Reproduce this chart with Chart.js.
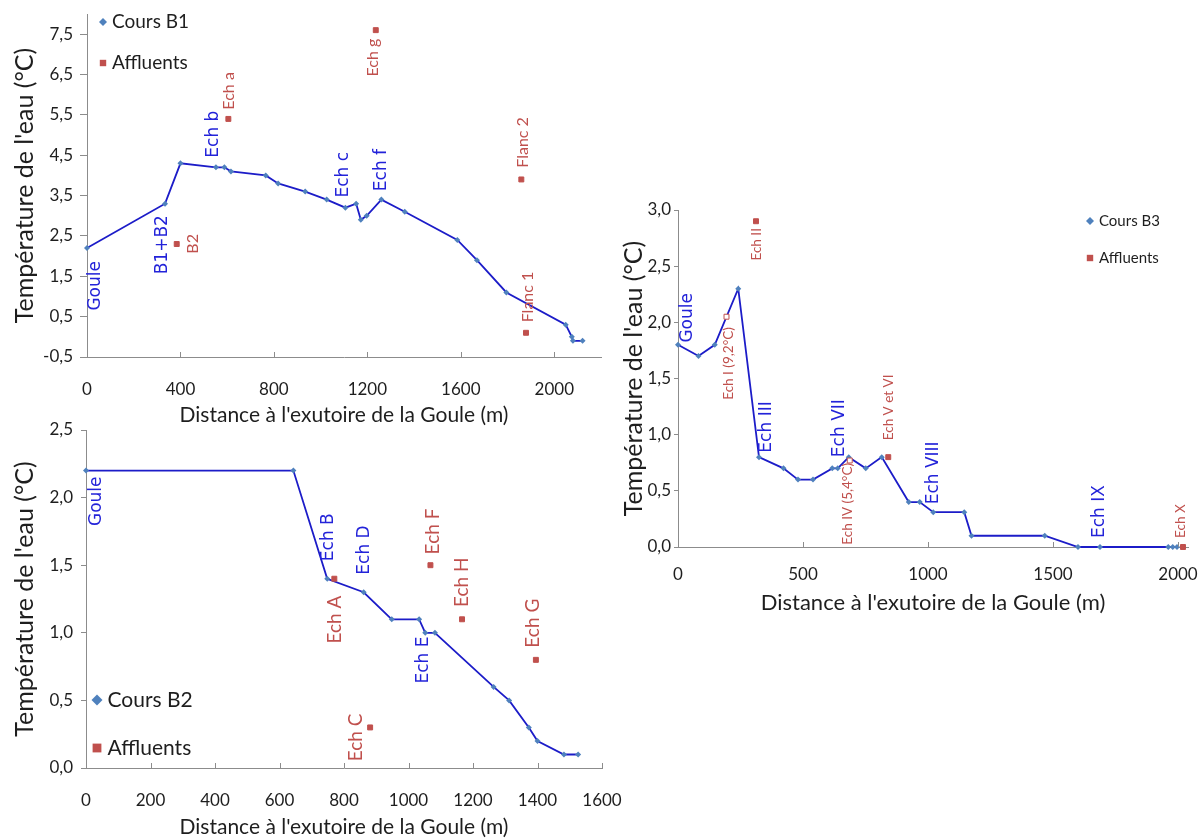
<!DOCTYPE html>
<html>
<head>
<meta charset="utf-8">
<script src="https://cdn.jsdelivr.net/npm/chart.js@4.4.1/dist/chart.umd.min.js"></script>
<style>
  body { margin: 0; background: #fff; }
  #page { position: relative; width: 1198px; height: 840px; overflow: hidden; }
  canvas { position: absolute; }
</style>
</head>
<body>
<div id="page">
  <canvas id="chartB1" width="620" height="430" style="left:0;top:0"></canvas>
  <canvas id="chartB2" width="640" height="428" style="left:0;top:412px"></canvas>
  <canvas id="chartB3" width="598" height="450" style="left:600px;top:180px"></canvas>
</div>
<script>
//********************************************************************************
/// Data (distance in m, water temperature in °C)
//********************************************************************************
// Cours B1
const b1Dist = [0, 334, 400, 552, 588, 616, 765, 818, 934, 1026, 1106, 1152, 1172, 1197, 1260, 1360, 1585, 1669, 1795, 2049, 2075, 2080, 2121];
const b1Temp = [2.2, 3.3, 4.3, 4.2, 4.2, 4.1, 4.0, 3.8, 3.6, 3.4, 3.2, 3.3, 2.9, 3.0, 3.4, 3.1, 2.4, 1.9, 1.1, 0.3, 0.0, -0.1, -0.1];
const b1AffNames = ['B2', 'Ech a', 'Ech g', 'Flanc 2', 'Flanc 1'];
const b1AffDist = [384, 605, 1236, 1859, 1879];
const b1AffTemp = [2.3, 5.4, 7.6, 3.9, 0.1];
const b1XTicks = [0, 400, 800, 1200, 1600, 2000];
const b1YTicks = [-0.5, 0.5, 1.5, 2.5, 3.5, 4.5, 5.5, 6.5, 7.5];

// Cours B2
const b2Dist = [0, 643, 748, 861, 948, 1033, 1052, 1082, 1264, 1312, 1373, 1400, 1482, 1526];
const b2Temp = [2.2, 2.2, 1.4, 1.3, 1.1, 1.1, 1.0, 1.0, 0.6, 0.5, 0.3, 0.2, 0.1, 0.1];
const b2AffNames = ['Ech A', 'Ech C', 'Ech F', 'Ech H', 'Ech G'];
const b2AffDist = [770, 881, 1068, 1166, 1395];
const b2AffTemp = [1.4, 0.3, 1.5, 1.1, 0.8];
const b2XTicks = [0, 200, 400, 600, 800, 1000, 1200, 1400, 1600];
const b2YTicks = [0, 0.5, 1.0, 1.5, 2.0, 2.5];

// Cours B3
const b3Dist = [0, 82, 147, 241, 324, 422, 480, 540, 617, 639, 683, 751, 815, 923, 967, 1021, 1145, 1174, 1467, 1600, 1688, 1961, 1979, 1996];
const b3Temp = [1.8, 1.7, 1.8, 2.3, 0.8, 0.7, 0.6, 0.6, 0.7, 0.7, 0.8, 0.7, 0.8, 0.4, 0.4, 0.31, 0.31, 0.1, 0.1, 0.0, 0.0, 0.0, 0.0, 0.0];
const b3AffNames = ['Ech I (9,2°C)', 'Ech II', 'Ech IV (5,4°C)', 'Ech V et VI', 'Ech X'];
const b3AffDist = [194, 312, 687, 841, 2020];
const b3AffTemp = [2.05, 2.9, 0.77, 0.8, 0.0];
const b3AffOffScale = [true, false, true, false, false]; // real value is off the scale
const b3XTicks = [0, 500, 1000, 1500, 2000];
const b3YTicks = [0, 0.5, 1.0, 1.5, 2.0, 2.5, 3.0];

const xTitle = "Distance à l'exutoire de la Goule (m)";
const yTitle = "Température de l'eau (°C)";

//********************************************************************************
/// Sample labels (rotated text, anchored at the bottom of the text)
//********************************************************************************
const b1Labels = [
    {text: 'Goule', x: 36, y: 0.65, kind: 'cours'},
    {text: 'B1+B2', x: 323, y: 1.55, kind: 'cours'},
    {text: 'B2', x: 454, y: 2.06, kind: 'aff'},
    {text: 'Ech b', x: 541, y: 4.44, kind: 'cours'},
    {text: 'Ech a', x: 607, y: 5.63, kind: 'aff'},
    {text: 'Ech g', x: 1225, y: 6.45, kind: 'aff'},
    {text: 'Ech c', x: 1098, y: 3.45, kind: 'cours'},
    {text: 'Ech f', x: 1262, y: 3.61, kind: 'cours'},
    {text: 'Flanc 2', x: 1864, y: 4.19, kind: 'aff'},
    {text: 'Flanc 1', x: 1885, y: 0.36, kind: 'aff'}
];
const b2Labels = [
    {text: 'Goule', x: 32, y: 1.79, kind: 'cours'},
    {text: 'Ech B', x: 751, y: 1.53, kind: 'cours'},
    {text: 'Ech D', x: 865, y: 1.43, kind: 'cours'},
    {text: 'Ech A', x: 772, y: 0.92, kind: 'aff'},
    {text: 'Ech E', x: 1047, y: 0.625, kind: 'cours'},
    {text: 'Ech F', x: 1076, y: 1.58, kind: 'aff'},
    {text: 'Ech H', x: 1164, y: 1.19, kind: 'aff'},
    {text: 'Ech G', x: 1387, y: 0.89, kind: 'aff'},
    {text: 'Ech C', x: 836, y: 0.05, kind: 'aff'}
];
const b3Labels = [
    {text: 'Goule', x: 40, y: 1.82, kind: 'cours'},
    {text: 'Ech I (9,2°C)', x: 202, y: 1.31, kind: 'aff'},
    {text: 'Ech II', x: 315, y: 2.55, kind: 'aff'},
    {text: 'Ech III', x: 356, y: 0.84, kind: 'cours'},
    {text: 'Ech VII', x: 647, y: 0.80, kind: 'cours'},
    {text: 'Ech IV (5,4°C)', x: 680, y: 0.02, kind: 'aff'},
    {text: 'Ech V et VI', x: 842, y: 0.95, kind: 'aff'},
    {text: 'Ech VIII', x: 1021, y: 0.38, kind: 'cours'},
    {text: 'Ech IX', x: 1688, y: 0.08, kind: 'cours'},
    {text: 'Ech X', x: 2012, y: 0.08, kind: 'aff'}
];

//********************************************************************************
/// Styles
//********************************************************************************
const NARROW = "Lato, 'DejaVu Sans Condensed', sans-serif";
const WIDE = "'DejaVu Sans', Verdana, sans-serif";
const LINE_BLUE = '#1C1CC8';
const MARK_BLUE = '#4F81BD';
const RED = '#C0504D';
const LABEL_BLUE = '#2323D9';
const AXIS_GREY = '#8C8C8C';
const TEXT = '#1e1e1e';

Chart.defaults.font.family = NARROW;
Chart.defaults.color = TEXT;

const fmtComma = v => v.toFixed(1).replace('.', ',');
const toPoints = (xs, ys) => xs.map((x, i) => ({x: x, y: ys[i]}));

// rotated labels, inner x tick marks and the legend drawn inside the plot
const sketchPlugin = {
    id: 'sketch',
    afterDraw(chart, args, opts) {
        const ctx = chart.ctx;
        const xs = chart.scales.x;
        const ys = chart.scales.y;

        ctx.save();
        ctx.strokeStyle = AXIS_GREY;
        ctx.lineWidth = 1;
        xs.ticks.forEach(t => {
            const px = Math.round(xs.getPixelForValue(t.value)) + 0.5;
            ctx.beginPath();
            ctx.moveTo(px, ys.bottom);
            ctx.lineTo(px, ys.bottom - opts.tickIn);
            ctx.stroke();
        });
        ctx.restore();

        opts.labels.forEach(l => {
            const aff = l.kind === 'aff';
            ctx.save();
            ctx.translate(xs.getPixelForValue(l.x), ys.getPixelForValue(l.y));
            ctx.rotate(-Math.PI / 2);
            ctx.font = aff ? opts.affFont : opts.coursFont;
            ctx.fillStyle = aff ? RED : LABEL_BLUE;
            ctx.textAlign = 'left';
            ctx.textBaseline = 'middle';
            ctx.fillText(l.text, 0, 0);
            ctx.restore();
        });

        const lg = opts.legend;
        ctx.save();
        ctx.fillStyle = MARK_BLUE;
        ctx.beginPath();
        ctx.moveTo(lg.x, lg.y - lg.mark);
        ctx.lineTo(lg.x + lg.mark, lg.y);
        ctx.lineTo(lg.x, lg.y + lg.mark);
        ctx.lineTo(lg.x - lg.mark, lg.y);
        ctx.closePath();
        ctx.fill();
        ctx.fillStyle = RED;
        ctx.fillRect(lg.x - lg.mark * 0.8, lg.y + lg.gap - lg.mark * 0.8, lg.mark * 1.6, lg.mark * 1.6);
        ctx.fillStyle = TEXT;
        ctx.font = lg.font;
        ctx.textAlign = 'left';
        ctx.textBaseline = 'middle';
        ctx.fillText(lg.items[0], lg.x + lg.mark + 5, lg.y);
        ctx.fillText(lg.items[1], lg.x + lg.mark + 5, lg.y + lg.gap);
        ctx.restore();
    }
};

function buildScales(c) {
    return {
        x: {
            type: 'linear',
            min: c.xMin, max: c.xMax,
            afterBuildTicks: s => { s.ticks = c.xTicks.map(v => ({value: v})); },
            afterFit: s => {
                s.height = c.xHeight;
                s.paddingLeft = 0;
                s.paddingRight = 0;
            },
            grid: {display: false},
            border: {color: AXIS_GREY, width: 1},
            ticks: {
                padding: c.xPad, autoSkip: false, maxRotation: 0,
                font: {size: c.tickSize}, color: TEXT,
                callback: v => String(v)
            },
            title: {
                display: true, text: xTitle, color: TEXT,
                font: {size: c.titleSize},
                padding: {top: 0, bottom: c.xTitlePad}
            }
        },
        y: {
            type: 'linear',
            min: c.yMin, max: c.yMax,
            afterBuildTicks: s => { s.ticks = c.yTicks.map(v => ({value: v})); },
            afterFit: s => {
                s.width = c.yWidth;
                s.paddingTop = 0;
                s.paddingBottom = 0;
            },
            grid: {display: true, drawOnChartArea: false, drawTicks: true, tickLength: c.tickLen, color: AXIS_GREY},
            border: {color: AXIS_GREY, width: 1},
            ticks: {
                padding: c.yPad, autoSkip: false,
                font: {size: c.tickSize}, color: TEXT,
                callback: v => fmtComma(v)
            },
            title: {
                display: true, text: yTitle, color: TEXT,
                font: {size: c.yTitleSize},
                padding: {top: c.yTitlePad, bottom: 0}
            }
        }
    };
}

function drawProfile(canvasId, c) {
    const affColors = c.affHollow.map(h => h ? '#ffffff' : RED);
    return new Chart(document.getElementById(canvasId), {
        type: 'scatter',
        data: {
            datasets: [{
                label: 'Affluents',
                data: toPoints(c.affDist, c.affTemp),
                showLine: false,
                pointStyle: 'rect',
                pointRadius: c.affRadius,
                pointHoverRadius: c.affRadius,
                pointBackgroundColor: affColors,
                pointBorderColor: RED,
                pointBorderWidth: 1,
                clip: false
            }, {
                label: c.coursName,
                data: toPoints(c.dist, c.temp),
                showLine: true,
                tension: 0,
                borderColor: LINE_BLUE,
                borderWidth: 1.8,
                pointStyle: 'rectRot',
                pointRadius: 3,
                pointHoverRadius: 3,
                pointBackgroundColor: MARK_BLUE,
                pointBorderColor: MARK_BLUE,
                pointBorderWidth: 0,
                clip: false
            }]
        },
        options: {
            responsive: false,
            animation: false,
            devicePixelRatio: 1,
            layout: {padding: c.padding},
            scales: buildScales(c),
            plugins: {
                legend: {display: false},
                tooltip: {enabled: false},
                sketch: {
                    tickIn: 5,
                    labels: c.labels,
                    coursFont: c.coursFont,
                    affFont: c.affFont,
                    legend: c.legend
                }
            }
        },
        plugins: [sketchPlugin]
    });
}

//********************************************************************************
/// Charts
//********************************************************************************
drawProfile('chartB1', {
    coursName: 'Cours B1',
    dist: b1Dist, temp: b1Temp,
    affDist: b1AffDist, affTemp: b1AffTemp, affHollow: b1AffNames.map(() => false),
    labels: b1Labels,
    xMin: 0, xMax: 2200, xTicks: b1XTicks,
    yMin: -0.5, yMax: 8, yTicks: b1YTicks,
    padding: {left: 0, top: 14, right: 19, bottom: 0},
    yWidth: 87, xHeight: 73, xPad: 14, yPad: 7, tickLen: 7,
    tickSize: 17, titleSize: 21, yTitleSize: 25, xTitlePad: 2, yTitlePad: 10,
    affRadius: 3.5,
    coursFont: '17px ' + WIDE, affFont: '16px ' + NARROW,
    legend: {x: 103, y: 22, gap: 41, mark: 4, font: '19px ' + NARROW, items: ['Cours B1', 'Affluents']}
});

drawProfile('chartB2', {
    coursName: 'Cours B2',
    dist: b2Dist, temp: b2Temp,
    affDist: b2AffDist, affTemp: b2AffTemp, affHollow: b2AffNames.map(() => false),
    labels: b2Labels,
    xMin: 0, xMax: 1600, xTicks: b2XTicks,
    yMin: 0, yMax: 2.5, yTicks: b2YTicks,
    padding: {left: 0, top: 18, right: 38, bottom: 0},
    yWidth: 86, xHeight: 72, xPad: 14, yPad: 8, tickLen: 5,
    tickSize: 17, titleSize: 21, yTitleSize: 25, xTitlePad: 0, yTitlePad: 10,
    affRadius: 3.5,
    coursFont: '17px ' + WIDE, affFont: '19px ' + NARROW,
    legend: {x: 97, y: 288, gap: 48, mark: 5.5, font: '21px ' + NARROW, items: ['Cours B2', 'Affluents']}
});

drawProfile('chartB3', {
    coursName: 'Cours B3',
    dist: b3Dist, temp: b3Temp,
    affDist: b3AffDist, affTemp: b3AffTemp, affHollow: b3AffOffScale,
    labels: b3Labels,
    xMin: 0, xMax: 2040, xTicks: b3XTicks,
    yMin: 0, yMax: 3, yTicks: b3YTicks,
    padding: {left: 0, top: 30, right: 10, bottom: 0},
    yWidth: 78, xHeight: 83, xPad: 9, yPad: 3, tickLen: 4,
    tickSize: 17, titleSize: 22, yTitleSize: 25, xTitlePad: 14, yTitlePad: 19,
    affRadius: 3.5,
    coursFont: '17px ' + WIDE, affFont: '13.5px ' + NARROW,
    legend: {x: 490, y: 41, gap: 37, mark: 4, font: '15px ' + NARROW, items: ['Cours B3', 'Affluents']}
});
</script>
</body>
</html>
